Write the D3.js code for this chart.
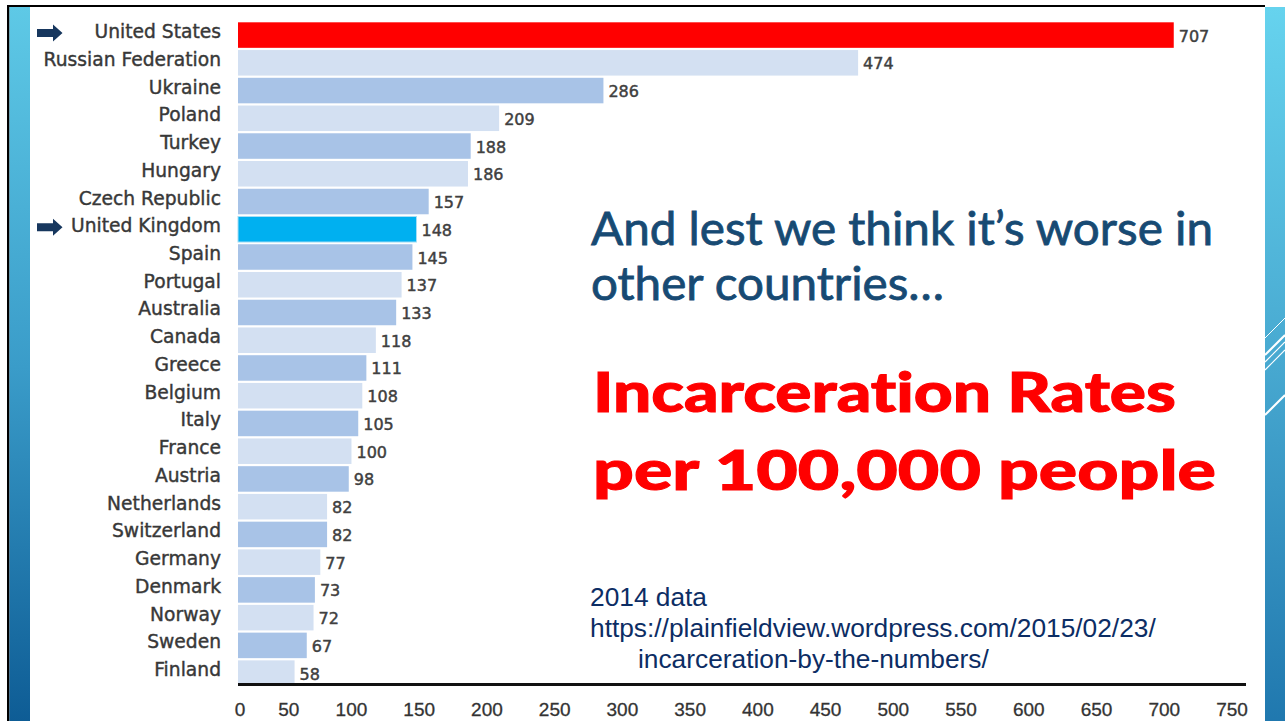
<!DOCTYPE html>
<html>
<head>
<meta charset="UTF-8">
<title>Incarceration Rates per 100,000 people</title>
<script src="https://d3js.org/d3.v7.min.js"></script>
<style>
    body { margin: 0; background: #fff; overflow: hidden; }
    svg { display: block; }
    .country { font-family: "DejaVu Sans", sans-serif; font-size: 18.7px; fill: #383838; stroke: #383838; stroke-width: 0.4px; }
    .value { font-family: "DejaVu Sans", sans-serif; font-size: 16px; fill: #404040; stroke: #404040; stroke-width: 0.45px; }
    .tick-label { font-family: "Liberation Sans", Arial, sans-serif; font-size: 19px; fill: #333; stroke: #333; stroke-width: 0.3px; }
    .headline { font-family: Lato, "Open Sans", sans-serif; font-size: 47px; fill: #174a73; stroke: #174a73; stroke-width: 0.8px; font-variant-ligatures: none; }
    .title { font-family: Lato, "Open Sans", sans-serif; font-size: 55px; font-weight: 900; fill: #ff0000; stroke: #ff0000; stroke-width: 1px; font-variant-ligatures: none; }
    .source { font-family: "Liberation Sans", Arial, sans-serif; font-size: 26.3px; fill: #0c2d64; }
</style>
</head>
<body>
<div id="chart"></div>
<script>
    const countries = ["United States", "Russian Federation", "Ukraine", "Poland", "Turkey", "Hungary",
        "Czech Republic", "United Kingdom", "Spain", "Portugal", "Australia", "Canada", "Greece",
        "Belgium", "Italy", "France", "Austria", "Netherlands", "Switzerland", "Germany", "Denmark",
        "Norway", "Sweden", "Finland"];
    const rates = [707, 474, 286, 209, 188, 186, 157, 148, 145, 137, 133, 118, 111, 108, 105, 100,
        98, 82, 82, 77, 73, 72, 67, 58];
    const arrowed = ["United States", "United Kingdom"];
    const tickValues = [0, 50, 100, 150, 200, 250, 300, 350, 400, 450, 500, 550, 600, 650, 700, 750];
    const headline = ["And lest we think it\u2019s worse in", "other countries\u2026"];
    const title = ["Incarceration Rates", "per 100,000 people"];
    const source = ["2014 data", "https://plainfieldview.wordpress.com/2015/02/23/", "incarceration-by-the-numbers/"];

    const width = 1285, height = 721;
    const plotLeft = 238;

    const svg = d3.select("#chart").append("svg")
        .attr("width", width)
        .attr("height", height);

    const defs = svg.append("defs");
    const gradLeft = defs.append("linearGradient").attr("id", "stripLeft")
        .attr("x1", 0).attr("y1", 0).attr("x2", 0).attr("y2", 1);
    gradLeft.append("stop").attr("offset", "0%").attr("stop-color", "#5ec9e6");
    gradLeft.append("stop").attr("offset", "50%").attr("stop-color", "#3a9cc9");
    gradLeft.append("stop").attr("offset", "100%").attr("stop-color", "#0d5b94");
    const gradRight = defs.append("linearGradient").attr("id", "stripRight")
        .attr("x1", 0).attr("y1", 0).attr("x2", 0).attr("y2", 1);
    gradRight.append("stop").attr("offset", "0%").attr("stop-color", "#66d3ee");
    gradRight.append("stop").attr("offset", "50%").attr("stop-color", "#47a8d0");
    gradRight.append("stop").attr("offset", "100%").attr("stop-color", "#1f77ae");

    // slide frame
    svg.append("rect").attr("x", 7).attr("y", 5).attr("width", 1258).attr("height", 2).attr("fill", "#000");
    svg.append("rect").attr("x", 7).attr("y", 5).attr("width", 2.5).attr("height", height).attr("fill", "#000");
    svg.append("rect").attr("x", 9.5).attr("y", 7).attr("width", 20.5).attr("height", height).attr("fill", "url(#stripLeft)");
    svg.append("rect").attr("x", 1265).attr("y", 7).attr("width", 20).attr("height", height).attr("fill", "url(#stripRight)");

    // white diagonal lines on the right strip
    const streaks = [[338, 1], [355, 2], [362, 1.2], [370, 1.2], [415, 2]];
    svg.append("g").selectAll("line")
        .data(streaks)
        .join("line")
        .attr("x1", 1265).attr("y1", d => d[0])
        .attr("x2", 1285).attr("y2", d => d[0] - 20)
        .attr("stroke", "#fff")
        .attr("stroke-width", d => d[1]);

    const x = d3.scaleLinear().domain([0, 750]).range([216, 1232]);
    const y = d3.scaleBand().domain(countries).range([21.2, 687]).paddingInner(0.08).paddingOuter(0.04);

    function barColor(name, i) {
        if (name === "United States") return "#ff0000";
        if (name === "United Kingdom") return "#00b0f0";
        return i % 2 === 1 ? "#d3e0f2" : "#a8c3e7";
    }

    const rows = countries.map((c, i) => ({ country: c, rate: rates[i], i }));

    svg.append("g").selectAll("rect")
        .data(rows)
        .join("rect")
        .attr("x", plotLeft)
        .attr("y", d => y(d.country))
        .attr("width", d => x(d.rate) - plotLeft)
        .attr("height", y.bandwidth())
        .attr("fill", d => barColor(d.country, d.i))
        .attr("stroke", d => d.country === "United Kingdom" ? "#a6def6" : "none")
        .attr("stroke-width", 1);

    const mid = d => y(d) + y.bandwidth() / 2;

    svg.append("g").selectAll("text")
        .data(rows)
        .join("text")
        .attr("class", "country")
        .attr("x", 221)
        .attr("y", d => mid(d.country) + 3)
        .attr("text-anchor", "end")
        .text(d => d.country);

    svg.append("g").selectAll("text")
        .data(rows)
        .join("text")
        .attr("class", "value")
        .attr("x", d => x(d.rate) + 5)
        .attr("y", d => mid(d.country) + 6.5)
        .text(d => d.rate);

    // arrows
    svg.append("g").selectAll("path")
        .data(arrowed)
        .join("path")
        .attr("transform", d => `translate(37,${mid(d) - 2})`)
        .attr("d", "M0,-4 L16,-4 L16,-8.5 L25.5,0 L16,8.5 L16,4 L0,4 Z")
        .attr("fill", "#17375e");

    // x axis
    const axisY = 684.5;
    svg.append("line")
        .attr("x1", plotLeft).attr("x2", 1246)
        .attr("y1", axisY).attr("y2", axisY)
        .attr("stroke", "#111").attr("stroke-width", 3);

    svg.append("g").selectAll("text")
        .data(tickValues)
        .join("text")
        .attr("class", "tick-label")
        .attr("x", d => d === 0 ? plotLeft + 2 : d === 50 ? x(d) + 5 : x(d))
        .attr("y", 716)
        .attr("text-anchor", "middle")
        .text(d => d);

    // slide text
    svg.append("g").selectAll("text")
        .data(headline)
        .join("text")
        .attr("class", "headline")
        .attr("x", 591)
        .attr("y", (d, i) => 245 + i * 55)
        .attr("textLength", (d, i) => [622, 353][i])
        .attr("lengthAdjust", "spacingAndGlyphs")
        .text(d => d);

    svg.append("g").selectAll("text")
        .data(title)
        .join("text")
        .attr("class", "title")
        .attr("x", 593)
        .attr("y", (d, i) => 412 + i * 78)
        .attr("textLength", (d, i) => [583, 623][i])
        .attr("lengthAdjust", "spacingAndGlyphs")
        .text(d => d);

    svg.append("g").selectAll("text")
        .data(source)
        .join("text")
        .attr("class", "source")
        .attr("x", (d, i) => i === 2 ? 638 : 590)
        .attr("y", (d, i) => 606 + i * 31)
        .text(d => d);
</script>
</body>
</html>
